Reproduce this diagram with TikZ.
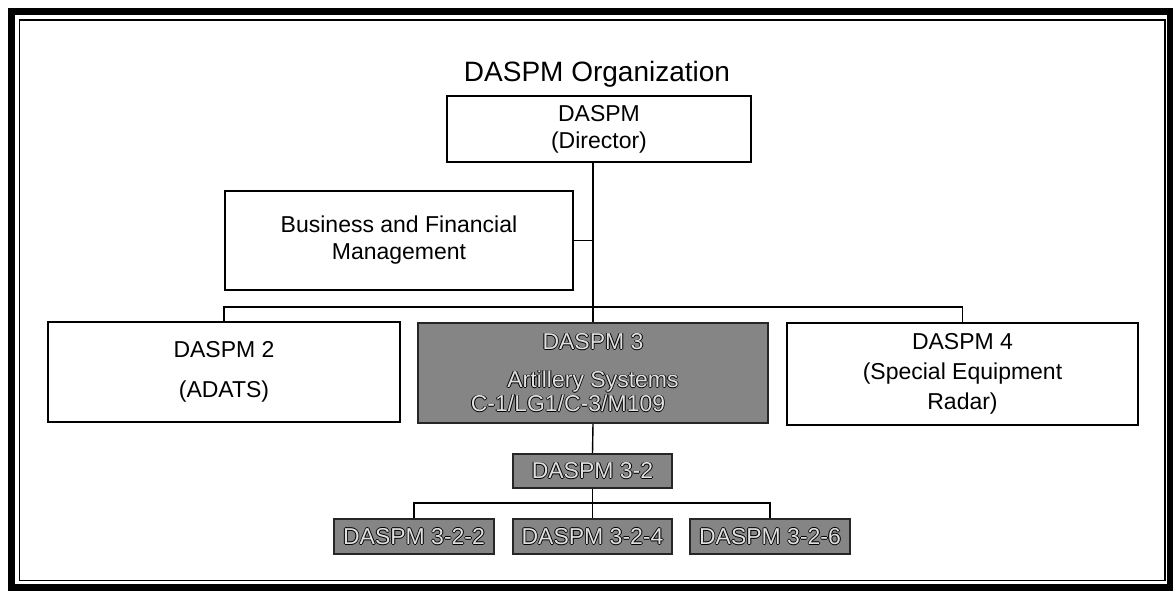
\documentclass[tikz,border=0pt]{standalone}
\usepackage{fontspec}
\setmainfont{Liberation Sans}
\usepackage{xcolor}
\newcommand\halo[1]{\leavevmode
  \rlap{\textcolor{black}{\kern-.9pt#1}}%
  \rlap{\textcolor{black}{\kern.9pt#1}}%
  \rlap{\textcolor{black}{\raisebox{.9pt}{#1}}}%
  \rlap{\textcolor{black}{\raisebox{-.9pt}{#1}}}%
  \textcolor{black!12}{#1}}
\tikzset{
  box/.style={draw=black, line width=1.4pt, fill=white, inner sep=0pt, align=center,
    font=\fontsize{23}{27}\selectfont},
  gbox/.style={box, fill=black!48, draw=black!85, line width=1.8pt},
  link/.style={draw=black, line width=1.4pt}
}
\begin{document}
\begin{tikzpicture}[x=1pt,y=-1pt]
\useasboundingbox (0,0) rectangle (1173,590);
% frame
\draw[line width=7pt] (11,11) rectangle (1170,587);
\draw[line width=1.5pt] (19.5,20) rectangle (1165,580.5);
% title
\node[font=\fontsize{28}{32}\selectfont, inner sep=0pt] (title) at (597,74) {DASPM Organization};
% boxes
\node[box, minimum width=304pt, minimum height=66pt] (dir) at (599,129) {DASPM\\(Director)};
\node[box, minimum width=348pt, minimum height=99pt] (biz) at (399,240.5) {Business and Financial\\Management};
\node[box, minimum width=352pt, minimum height=100pt] (d2) at (224,372) {DASPM 2\\[13pt](ADATS)};
\node[gbox, minimum width=350pt, minimum height=100pt] (d3) at (593,373)
  {\halo{DASPM 3}\\[11pt]\halo{Artillery Systems}\\[-3pt]\hspace*{-50pt}\halo{C-1/LG1/C-3/M109}};
\node[box, minimum width=351pt, minimum height=102pt] (d4) at (962.5,374)
  {DASPM 4\\[3pt](Special Equipment\\[3pt]Radar)};
\node[gbox, minimum width=159pt, minimum height=34pt] (d32) at (592.5,471) {\halo{DASPM 3-2}};
\node[gbox, minimum width=160pt, minimum height=35pt] (d322) at (414,536.5) {\halo{DASPM 3-2-2}};
\node[gbox, minimum width=159pt, minimum height=35pt] (d324) at (592.5,536.5) {\halo{DASPM 3-2-4}};
\node[gbox, minimum width=160pt, minimum height=35pt] (d326) at (770,536.5) {\halo{DASPM 3-2-6}};
% connectors
\coordinate (busy) at (0,307);
\coordinate (bus2) at (0,503);
\draw[link] (dir.south -| d3.north) -- (d3.north);
\draw[link] (biz.east) -- (biz.east -| d3.north);
\draw[link] (d2.north) -- (d2.north |- busy) -- (d4.north |- busy) -- (d4.north);
\draw[link] (d3.south) -- (d32.north);
\draw[link] (d32.south) -- (d324.north);
\draw[link] (d322.north) -- (d322.north |- bus2) -- (d326.north |- bus2) -- (d326.north);
\end{tikzpicture}
\end{document}
